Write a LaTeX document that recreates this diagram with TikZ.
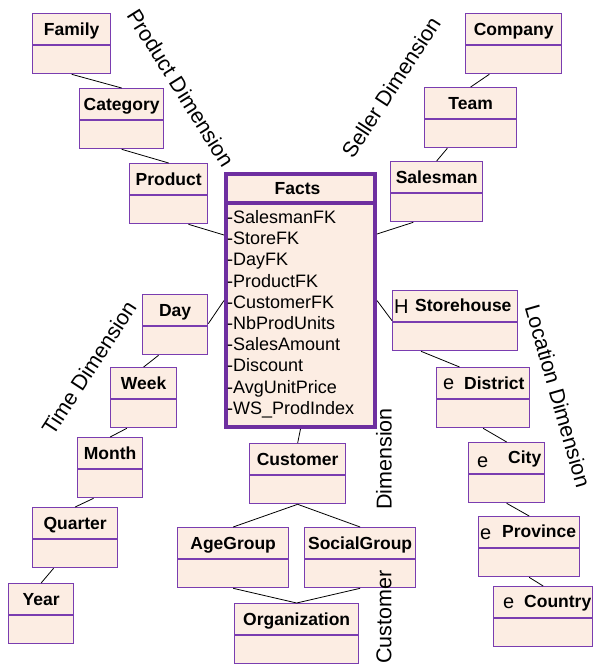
\documentclass[tikz,border=0pt]{standalone}
\usepackage{fontspec}
\setmainfont{Liberation Sans}
\usetikzlibrary{calc}
\definecolor{boxfill}{HTML}{FCEDE3}
\definecolor{boxline}{HTML}{7A3DB0}
\definecolor{factline}{HTML}{6E2FA0}
\tikzset{
  cls/.style={draw=boxline, line width=1.3pt, fill=boxfill, rectangle, inner sep=0pt,
              minimum height=60pt, anchor=north west},
  clsline/.style={draw=boxline, line width=1.3pt},
  hdr/.style={font=\fontsize{17.5}{21}\selectfont\bfseries, inner sep=0pt, anchor=base},
  hdrw/.style={font=\fontsize{17.5}{21}\selectfont\bfseries, inner sep=0pt, anchor=base west},
  glyph/.style={font=\fontsize{20}{24}\selectfont, inner sep=0pt, anchor=base west},
  attr/.style={font=\fontsize{18}{21}\selectfont, inner sep=0pt, anchor=base west},
  dimlabel/.style={font=\fontsize{21.5}{24}\selectfont, inner sep=0pt},
  link/.style={draw=black, line width=0.8pt},
}
% class box: name, left x, top y, right x, title
\newcommand\umlclass[5]{%
  \node[cls, minimum width={#4-#2}] (#1) at (#2,#3) {};
  \draw[clsline] ([yshift=-32pt]#1.north west) -- ([yshift=-32pt]#1.north east);
  \node[hdr] (#1-title) at ([yshift=-22pt]#1.north) {#5};
}
\begin{document}
\begin{tikzpicture}[x=1pt,y=-1pt]
\useasboundingbox (0,0) rectangle (593,667);

% product hierarchy
\umlclass{family}{32}{13}{110}{Family}
\umlclass{category}{79}{88}{163}{Category}
\umlclass{product}{129}{163}{207}{Product}

% seller hierarchy
\umlclass{company}{465}{13}{561}{Company}
\umlclass{team}{424}{87}{516}{Team}
\umlclass{salesman}{390}{161}{482}{Salesman}

% time hierarchy
\umlclass{day}{142}{294}{207}{Day}
\umlclass{week}{110}{367}{176}{Week}
\umlclass{month}{77}{437}{142}{Month}
\umlclass{quarter}{32}{507}{117}{Quarter}
\umlclass{year}{8}{583}{73}{Year}

% customer hierarchy
\umlclass{customer}{249}{443}{345}{Customer}
\umlclass{agegroup}{177}{527}{288}{AgeGroup}
\umlclass{socialgroup}{304}{527}{415}{SocialGroup}
\umlclass{organization}{234}{603}{358}{Organization}

% location hierarchy
\umlclass{storehouse}{392}{290}{517}{}
\umlclass{district}{436}{367}{529}{}
\umlclass{city}{468}{442}{544}{}
\umlclass{province}{478}{516}{579}{}
\umlclass{country}{493}{586}{592}{}
\node[glyph] (storehouse-mark) at (394,313) {H};
\node[hdrw] (storehouse-name) at (415,311) {Storehouse};
\node[glyph] (district-mark) at (443,389) {e};
\node[hdrw] (district-name) at (464,389) {District};
\node[glyph] (city-mark) at (477,467) {e};
\node[hdrw] (city-name) at (508,463) {City};
\node[glyph] (province-mark) at (480,539) {e};
\node[hdrw] (province-name) at (502,537) {Province};
\node[glyph] (country-mark) at (503,608) {e};
\node[hdrw] (country-name) at (524,607) {Country};

% fact table
\node[draw=factline, line width=4pt, fill=boxfill, rectangle, inner sep=0pt,
      minimum width=149pt, minimum height=253pt, anchor=north west] (facts) at (224,172) {};
\draw[draw=factline, line width=4pt] ([yshift=-31pt]facts.north west) -- ([yshift=-31pt]facts.north east);
\node[hdr] (facts-title) at (297.5,194.5) {Facts};
\foreach \a [count=\i from 0] in {-SalesmanFK,-StoreFK,-DayFK,-ProductFK,-CustomerFK,%
    -NbProdUnits,-SalesAmount,-Discount,-AvgUnitPrice,-WS\_ProdIndex}
  \node[attr] (attr\i) at (227,223.5+21.2*\i) {\a};

% product links
\draw[link] (family.south) -- (category.north);
\draw[link] (category.south) -- (product.north);
\draw[link] ($(product.south west)!0.75!(product.south east)$) -- ([yshift=-63pt]facts.north west);

% seller links
\draw[link] ($(company.south west)!0.25!(company.south east)$) -- (team.north);
\draw[link] ($(team.south west)!0.25!(team.south east)$) -- (salesman.north);
\draw[link] ($(salesman.south west)!0.25!(salesman.south east)$) -- ([yshift=-62pt]facts.north east);

% time links
\draw[link] ([yshift=1pt]day.east) -- (facts.west);
\draw[link] ($(day.south west)!0.25!(day.south east)$) -- (week.north);
\draw[link] ($(week.south west)!0.25!(week.south east)$) -- (month.north);
\draw[link] ($(month.south west)!0.25!(month.south east)$) -- (quarter.north);
\draw[link] ($(quarter.south west)!0.25!(quarter.south east)$) -- (year.north);

% customer links
\draw[link] (facts.south) -- (customer.north);
\draw[link] (customer.south) -- (agegroup.north);
\draw[link] (customer.south) -- (socialgroup.north);
\draw[link] (agegroup.south) -- (organization.north);
\draw[link] (socialgroup.south) -- (organization.north);

% location links
\draw[link] (facts.east) -- (storehouse.west);
\draw[link] ($(storehouse.south west)!0.23!(storehouse.south east)$) -- ($(district.north west)!0.25!(district.north east)$);
\draw[link] (district.south) -- (city.north);
\draw[link] (city.south) -- (province.north);
\draw[link] (province.south) -- (country.north);

% rotated dimension captions, on top of the boxes
\node[dimlabel, rotate=-58] (prodDim) at (181,88) {Product Dimension};
\node[dimlabel, rotate=57] (sellDim) at (391,87) {Seller Dimension};
\node[dimlabel, rotate=57] (timeDim) at (89,368) {Time Dimension};
\node[dimlabel, rotate=-74] (locDim) at (558,396) {Location Dimension};
\node[dimlabel, rotate=90] (custDimA) at (384,459) {Dimension};
\node[dimlabel, rotate=90] (custDimB) at (384,617) {Customer};
\end{tikzpicture}
\end{document}
